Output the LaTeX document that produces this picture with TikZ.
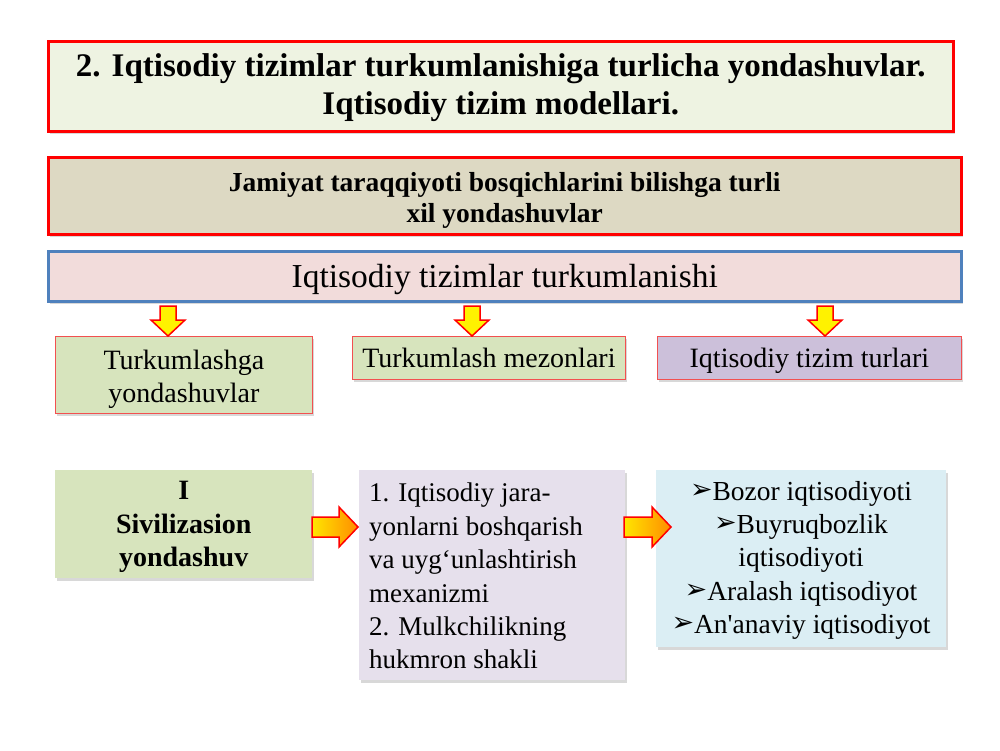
\documentclass[tikz,border=0pt]{standalone}
\usepackage{fontspec}
\setmainfont{Liberation Serif}
\newfontfamily\dv{DejaVu Sans}
\usetikzlibrary{shadows}
\definecolor{titlefill}{HTML}{EEF3E2}
\definecolor{tanfill}{HTML}{DDD9C3}
\definecolor{pinkfill}{HTML}{F2DCDB}
\definecolor{bluebord}{HTML}{4F81BD}
\definecolor{greenfill}{HTML}{D7E4BD}
\definecolor{purplefill}{HTML}{CCC0DA}
\definecolor{lilacfill}{HTML}{E6E0EC}
\definecolor{lbluefill}{HTML}{DBEEF4}
\definecolor{redbord}{HTML}{FF0000}
\definecolor{lredbord}{HTML}{F25050}
\newcommand\bul{\raisebox{2pt}{\dv\fontsize{27}{27}\selectfont ➢}}
\begin{document}
\begin{tikzpicture}[x=1pt,y=-1pt,
  shad/.style={drop shadow={shadow xshift=2pt, shadow yshift=-3pt, opacity=0.3, fill=gray}},
  bigbox/.style={rectangle, line width=2.5pt, draw=redbord, anchor=north west, inner sep=0pt, shad},
  smallbox/.style={rectangle, line width=0.8pt, draw=lredbord, anchor=north west, inner sep=0pt, shad},
  plainbox/.style={rectangle, anchor=north west, inner sep=0pt, shad},
  yarrow/.style={draw=redbord, line width=1.5pt, fill=yellow, line join=miter},
  oarrow/.style={draw=redbord, line width=1.5pt, left color=yellow!80!orange, right color=orange!90!yellow, line join=miter},
  txt/.style={font=\fontsize{28}{33}\selectfont, align=center},
  one/.style={text height=19pt, text depth=6pt},
]
\useasboundingbox (0,0) rectangle (1000,750);
\fill[white] (0,0) rectangle (1000,750);

% title
\node[bigbox, fill=titlefill, minimum width=905pt, minimum height=90pt] (title) at (47,40) {};
\node[font=\fontsize{33}{37.5}\selectfont\bfseries, align=center] (titletext) at ([yshift=-1.5pt]title.center)
  {2. Iqtisodiy tizimlar turkumlanishiga turlicha yondashuvlar.\\Iqtisodiy tizim modellari.};

% jamiyat
\node[bigbox, fill=tanfill, minimum width=913pt, minimum height=77pt] (jam) at (47,156) {};
\node[font=\fontsize{27.5}{31}\selectfont\bfseries, align=center] (jamtext) at ([yshift=-4.5pt]jam.center)
  {Jamiyat taraqqiyoti bosqichlarini bilishga turli\\xil yondashuvlar};

% turkumlanishi
\node[rectangle, anchor=north west, line width=2.5pt, draw=bluebord, fill=pinkfill,
  minimum width=913pt, minimum height=50pt, inner sep=0pt, shad] (turk) at (47,250) {};
\node[font=\fontsize{33.5}{36}\selectfont, text height=23pt, text depth=7pt] (turktext) at ([yshift=-3.5pt]turk.center) {Iqtisodiy tizimlar turkumlanishi};

% row boxes
\node[smallbox, fill=greenfill, minimum width=257pt, minimum height=77pt] (a) at (55,336) {};
\node[txt] (atext) at ([yshift=-4pt]a.center) {Turkumlashga\\yondashuvlar};
\node[smallbox, fill=greenfill, minimum width=273pt, minimum height=43pt] (b) at (352,336) {};
\node[txt, one] (btext) at ([yshift=-3.5pt]b.center) {Turkumlash mezonlari};
\node[smallbox, fill=purplefill, minimum width=304pt, minimum height=43pt] (c) at (657,336) {};
\node[txt, one] (ctext) at ([yshift=-3pt]c.center) {Iqtisodiy tizim turlari};

% down arrows
\foreach \x in {168, 472, 825}{
  \draw[yarrow] (\x-8,306) -- (\x+8,306) -- (\x+8,320) -- (\x+17,320) -- (\x,336)
     -- (\x-17,320) -- (\x-8,320) -- cycle;
}

% bottom row
\node[plainbox, fill=greenfill, minimum width=257pt, minimum height=108pt] (d) at (55,470) {};
\node[font=\fontsize{28}{33.5}\selectfont\bfseries, align=center] (dtext) at ([yshift=-3pt]d.center) {I\\Sivilizasion\\yondashuv};

\node[plainbox, fill=lilacfill, minimum width=266pt, minimum height=210pt] (e) at (359,470) {};
\node[font=\fontsize{27}{33.4}\selectfont, align=left, anchor=north west, inner sep=0pt] (etext) at (369,483)
  {1. Iqtisodiy jara-\\yonlarni boshqarish\\va uyg‘unlashtirish\\mexanizmi\\2. Mulkchilikning\\hukmron shakli};

\node[plainbox, fill=lbluefill, minimum width=290pt, minimum height=177pt] (f) at (656,470) {};
\node[font=\fontsize{27.5}{33.3}\selectfont, align=center, anchor=north, inner sep=0pt] (ftext) at (801,481)
  {\bul Bozor iqtisodiyoti\\
   \bul Buyruqbozlik\\
   iqtisodiyoti\\
   \bul Aralash iqtisodiyot\\
   \bul An\textquotesingle anaviy iqtisodiyot};

% right arrows
\draw[oarrow] (312,517) -- (339,517) -- (339,507) -- (358,527) -- (339,547) -- (339,537) -- (312,537) -- cycle;
\draw[oarrow] (624,517) -- (652,517) -- (652,507) -- (671,527) -- (652,547) -- (652,537) -- (624,537) -- cycle;
\end{tikzpicture}
\end{document}
